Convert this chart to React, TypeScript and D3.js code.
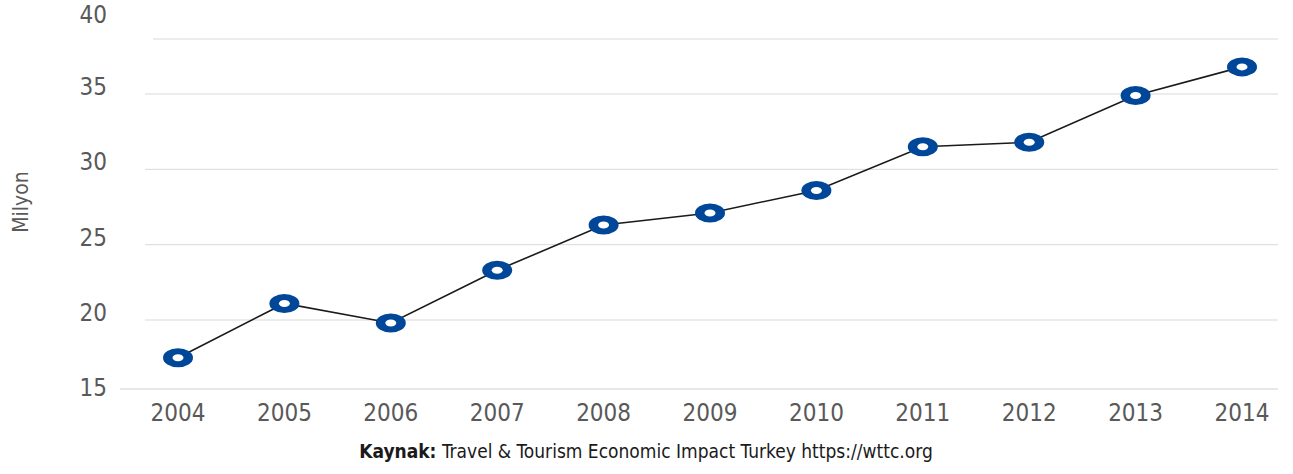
import React from "react";
import * as d3 from "d3";

const years = ["2004","2005","2006","2007","2008","2009","2010","2011","2012","2013","2014"];
const arrivals = [17.5, 21.1, 19.8, 23.3, 26.3, 27.1, 28.6, 31.5, 31.8, 34.9, 36.8];
const yTicks = [15, 20, 25, 30, 35, 40];

const W = 1293, H = 474;
const FONT = "'DejaVu Sans Condensed', 'Liberation Sans Narrow', sans-serif";

export default function App() {
  const x = d3.scalePoint<string>().domain(years).range([178, 1242]);
  const y = d3.scaleLinear().domain([20, 35]).range([320, 94]);
  const line = d3.line<number>()
    .x((_, i) => x(years[i]) as number)
    .y((d) => y(d));

  return (
    <svg width={W} height={H} style={{ position: "absolute", left: 0, top: 0, background: "#fff" }}>
      {yTicks.map((t) => {
        const yy = y(t);
        const gy = t === 40 ? 39 : t === 15 ? 389 : yy;
        const x0 = t === 40 ? 153 : t === 15 ? 120 : 145;
        return (
          <g key={t}>
            <line x1={x0} x2={1278} y1={gy} y2={gy} stroke={t === 15 ? "#d0d0d0" : "#d9d9d9"} strokeWidth={1} />
            <text x={107} y={Math.max(yy - 7, 15)} textAnchor="end" dominantBaseline="central"
              fontFamily={FONT} fontStretch="condensed" fontSize={24} fill="#595959">{t}</text>
          </g>
        );
      })}
      {years.map((yr) => (
        <text key={yr} x={x(yr)} y={413} textAnchor="middle" dominantBaseline="central"
          fontFamily={FONT} fontStretch="condensed" fontSize={24} fill="#595959">{yr}</text>
      ))}
      <text transform="translate(21,202) rotate(-90)" textAnchor="middle" dominantBaseline="central"
        fontFamily={FONT} fontStretch="condensed" fontSize={21} fill="#595959">Milyon</text>
      <path d={line(arrivals) || ""} fill="none" stroke="#1a1a1a" strokeWidth={1.6} />
      {arrivals.map((v, i) => (
        <g key={i} transform={`translate(${x(years[i])},${y(v)})`}>
          <ellipse rx={15} ry={9.5} fill="#00479a" />
          <ellipse rx={5.5} ry={3.5} fill="#fff" />
        </g>
      ))}
      <text x={646} y={451} textAnchor="middle" dominantBaseline="central"
        fontFamily={FONT} fontStretch="condensed" fontSize={19} fill="#1a1a1a">
        <tspan fontWeight="bold">Kaynak:</tspan>
        <tspan> Travel &amp; Tourism Economic Impact Turkey https://wttc.org</tspan>
      </text>
    </svg>
  );
}
